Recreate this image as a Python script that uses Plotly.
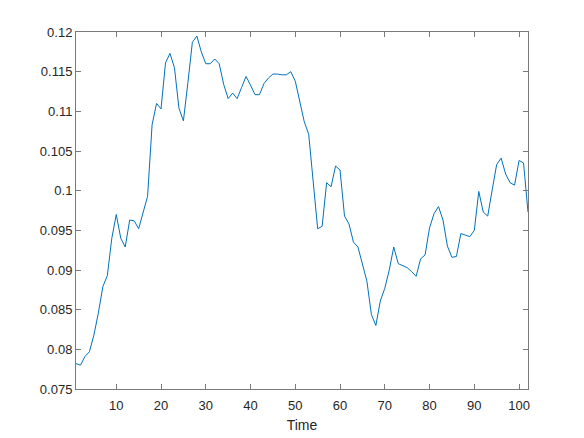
import plotly.graph_objects as go

# values, one per time step 1..102
time = list(range(1, 103))
series = [
    0.0782, 0.0780, 0.0791, 0.0797, 0.0818, 0.0846, 0.0879, 0.0893, 0.0940, 0.0970,
    0.0940, 0.0929, 0.0963, 0.0962, 0.0952, 0.0972, 0.0993, 0.1083, 0.1110, 0.1103,
    0.1161, 0.1173, 0.1155, 0.1104, 0.1088, 0.1136, 0.1187, 0.1195, 0.1175, 0.1160,
    0.1160, 0.1166, 0.1160, 0.1134, 0.1116, 0.1123, 0.1116, 0.1130, 0.1144, 0.1133,
    0.1121, 0.1121, 0.1135, 0.1142, 0.1147, 0.1147, 0.1146, 0.1146, 0.1150, 0.1138,
    0.1113, 0.1087, 0.1071, 0.1014, 0.0952, 0.0955, 0.1010, 0.1005, 0.1031, 0.1026,
    0.0968, 0.0958, 0.0935, 0.0929, 0.0909, 0.0886, 0.0844, 0.0830, 0.0861, 0.0877,
    0.0900, 0.0929, 0.0908, 0.0905, 0.0903, 0.0898, 0.0892, 0.0914, 0.0919, 0.0953,
    0.0971, 0.0980, 0.0963, 0.0930, 0.0916, 0.0917, 0.0946, 0.0944, 0.0942, 0.0950,
    0.0999, 0.0973, 0.0968, 0.1001, 0.1033, 0.1041, 0.1021, 0.1010, 0.1007, 0.1038,
    0.1035, 0.0973,
]

x_ticks = [10, 20, 30, 40, 50, 60, 70, 80, 90, 100]
y_ticks = [0.075, 0.08, 0.085, 0.09, 0.095, 0.1, 0.105, 0.11, 0.115, 0.12]
y_labels = ["0.075", "0.08", "0.085", "0.09", "0.095", "0.1", "0.105", "0.11", "0.115", "0.12"]

TXT = "#262626"
LINE = "#7a7a7a"
FONT = "Liberation Sans, Arial, sans-serif"

fig = go.Figure(go.Scatter(
    x=time, y=series, mode="lines",
    line=dict(color="#0072BD", width=1),
    hoverinfo="skip",
))

axis_common = dict(
    showline=True, linecolor=LINE, linewidth=1, mirror="ticks",
    ticks="inside", ticklen=5, tickcolor=LINE, tickwidth=1,
    showgrid=False, zeroline=False, automargin=False,
    tickfont=dict(family=FONT, size=13, color=TXT),
)

# page body has an 8px margin, so the figure is a bit smaller than the window
fig.update_layout(
    width=576, height=430,
    margin=dict(l=68, r=56, t=24, b=49),
    paper_bgcolor="white", plot_bgcolor="white",
    showlegend=False,
    xaxis=dict(
        range=[1, 102], tickvals=x_ticks, ticklabelstandoff=4,
        title=dict(text="Time", standoff=8, font=dict(family=FONT, size=14, color=TXT)),
        **axis_common,
    ),
    yaxis=dict(
        range=[0.075, 0.12], tickvals=y_ticks, ticktext=y_labels,
        **axis_common,
    ),
)

fig.write_html("out.html")
